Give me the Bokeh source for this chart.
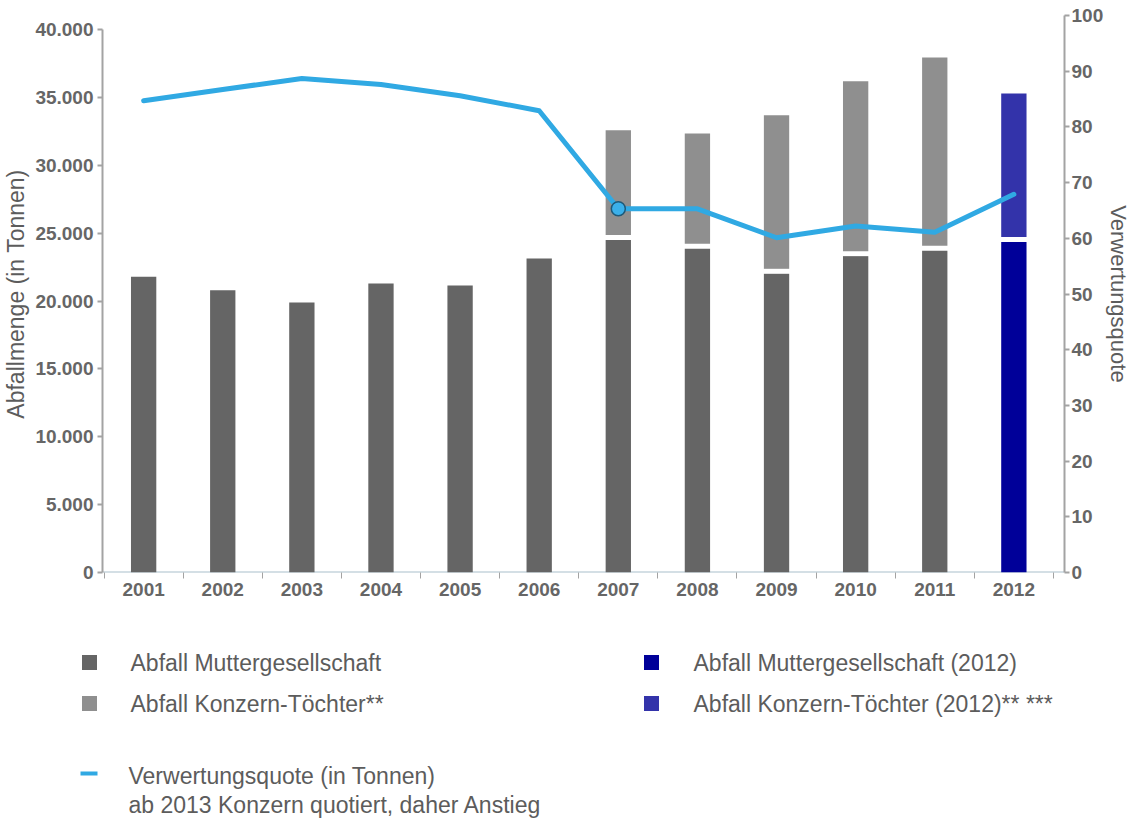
from bokeh.plotting import figure
from bokeh.models import Range1d, LinearAxis, FixedTicker, Span
from bokeh.layouts import column, row
from bokeh.embed import file_html
from bokeh.resources import INLINE
from bokeh.core.properties import value

# ---------------- data ----------------
years = [2001, 2002, 2003, 2004, 2005, 2006, 2007, 2008, 2009, 2010, 2011, 2012]
abfall_mutter = [21800, 20800, 19900, 21300, 21150, 23150, 24700, 24050, 22200, 23500, 23900, 24550]
abfall_gesamt = [21800, 20800, 19900, 21300, 21150, 23150, 32600, 32350, 33700, 36200, 37950, 35300]
verwertungsquote = [84.7, 86.7, 88.7, 87.6, 85.6, 82.9, 65.3, 65.3, 60.1, 62.2, 61.1, 67.9]
left_ticks = [0, 5000, 10000, 15000, 20000, 25000, 30000, 35000, 40000]
left_tick_labels = ["0", "5.000", "10.000", "15.000", "20.000", "25.000", "30.000", "35.000", "40.000"]
right_ticks = [0, 10, 20, 30, 40, 50, 60, 70, 80, 90, 100]
legend_left = ["Abfall Muttergesellschaft", "Abfall Konzern-Töchter**"]
legend_right = ["Abfall Muttergesellschaft (2012)", "Abfall Konzern-Töchter (2012)** ***"]
legend_line = ["Verwertungsquote (in Tonnen)", "ab 2013 Konzern quotiert, daher Anstieg"]
highlight_year = 2007

# ---------------- styles ----------------
FONT = "Liberation Sans"
C_MUTTER = "#656565"
C_TOECHTER = "#8f8f8f"
C_MUTTER_12 = "#000099"
C_TOECHTER_12 = "#3333aa"
C_LINE = "#30a9e3"
C_AXIS = "#a3a3a3"
C_TICKLBL = "#666666"
C_TEXT = "#5c5c5c"
BAR_W = 0.32
TICK_FS = "19px"

mutter_colors = [C_MUTTER_12 if y == 2012 else C_MUTTER for y in years]
t_idx = [i for i in range(len(years)) if abfall_gesamt[i] > abfall_mutter[i]]
t_years = [years[i] for i in t_idx]
t_bottom = [abfall_mutter[i] for i in t_idx]
t_top = [abfall_gesamt[i] for i in t_idx]
t_colors = [C_TOECHTER_12 if years[i] == 2012 else C_TOECHTER for i in t_idx]

p = figure(width=1134, height=613,
           x_range=Range1d(2000.48, 2012.64), y_range=Range1d(0, 41054),
           output_backend="svg", toolbar_location=None,
           min_border_left=100, min_border_right=66, min_border_top=15, min_border_bottom=41)
p.xgrid.visible = False
p.ygrid.visible = False
p.outline_line_color = None
p.extra_y_ranges = {"quote": Range1d(0, 100)}

# baseline
p.add_layout(Span(location=0, dimension="width", line_color="#aac0cc", line_width=2, level="underlay"))

# bars
p.vbar(x=years, bottom=0, top=abfall_mutter, width=BAR_W, fill_color=mutter_colors, line_color=None)
p.vbar(x=t_years, bottom=t_bottom, top=t_top, width=BAR_W, fill_color=t_colors, line_color=None)
p.rect(x=t_years, y=t_bottom, width=BAR_W + 0.02, height=5, height_units="screen",
       fill_color="white", line_color=None)

# line
p.line(years, verwertungsquote, y_range_name="quote", line_color=C_LINE, line_width=5,
       line_join="round", line_cap="round")
hi = years.index(highlight_year)
p.scatter([years[hi]], [verwertungsquote[hi]], y_range_name="quote", size=14,
          fill_color="#3bb0ea", line_color="#1d5a7a", line_width=1.5)

# x axis
xa = p.xaxis[0]
boundaries = [y - 0.5 for y in years] + [years[-1] + 0.5]
xa.ticker = FixedTicker(ticks=years, minor_ticks=boundaries)
xa.major_label_overrides = {y: str(y) for y in years}
xa.axis_line_color = None
xa.major_tick_out = 0
xa.major_tick_in = 0
xa.minor_tick_out = 6
xa.minor_tick_in = 0
xa.minor_tick_line_color = C_AXIS
xa.minor_tick_line_width = 1
xa.major_label_standoff = 4
xa.major_label_text_font = FONT
xa.major_label_text_font_style = "bold"
xa.major_label_text_font_size = TICK_FS
xa.major_label_text_color = C_TICKLBL

# left axis
ya = p.yaxis[0]
ya.ticker = FixedTicker(ticks=left_ticks)
ya.major_label_overrides = dict(zip(left_ticks, left_tick_labels))
ya.bounds = (0, 40000)
ya.axis_line_color = C_AXIS
ya.axis_line_width = 2
ya.major_tick_line_color = C_AXIS
ya.major_tick_line_width = 2
ya.major_tick_out = 5
ya.major_tick_in = 0
ya.minor_tick_out = 0
ya.minor_tick_in = 0
ya.major_label_standoff = 4
ya.major_label_text_font = FONT
ya.major_label_text_font_style = "bold"
ya.major_label_text_font_size = TICK_FS
ya.major_label_text_color = C_TICKLBL
ya.axis_label = "Abfallmenge (in Tonnen)"
ya.axis_label_text_font = FONT
ya.axis_label_text_font_style = "normal"
ya.axis_label_text_font_size = "23px"
ya.axis_label_text_color = C_TEXT
ya.axis_label_standoff = 3

# right axis
ra = LinearAxis(y_range_name="quote", ticker=FixedTicker(ticks=right_ticks))
ra.axis_line_color = C_AXIS
ra.axis_line_width = 2
ra.major_tick_line_color = C_AXIS
ra.major_tick_line_width = 2
ra.major_tick_out = 5
ra.major_tick_in = 0
ra.minor_tick_out = 0
ra.minor_tick_in = 0
ra.major_label_standoff = 2
ra.major_label_text_font = FONT
ra.major_label_text_font_style = "bold"
ra.major_label_text_font_size = TICK_FS
ra.major_label_text_color = C_TICKLBL
ra.axis_label = "Verwertungsquote"
ra.axis_label_text_font = FONT
ra.axis_label_text_font_style = "normal"
ra.axis_label_text_font_size = "22px"
ra.axis_label_text_color = C_TEXT
ra.axis_label_standoff = 0
p.add_layout(ra, "right")

# ---------------- legend (page-pixel coordinates, y measured from legend top) ----------------
LG_TOP = 613
lg = figure(width=1134, height=207, x_range=Range1d(0, 1134), y_range=Range1d(207, 0),
            output_backend="svg", toolbar_location=None, min_border=0,
            x_axis_location=None, y_axis_location=None)
lg.xgrid.visible = False
lg.ygrid.visible = False
lg.outline_line_color = None

row_y = [662 - LG_TOP, 703 - LG_TOP]
lg.rect(x=[89, 89], y=row_y, width=15, height=15, fill_color=[C_MUTTER, C_TOECHTER], line_color=None)
lg.rect(x=[651, 651], y=row_y, width=15, height=15, fill_color=[C_MUTTER_12, C_TOECHTER_12], line_color=None)
lg.text(x=[130, 130], y=row_y, text=legend_left, text_font=value(FONT), text_font_size="23px",
        text_color=C_TEXT, text_baseline="middle", text_align="left")
lg.text(x=[693, 693], y=row_y, text=legend_right, text_font=value(FONT), text_font_size="23px",
        text_color=C_TEXT, text_baseline="middle", text_align="left")
lg.segment(x0=[80], y0=[773 - LG_TOP], x1=[97], y1=[773 - LG_TOP], line_color=C_LINE, line_width=4)
lg.text(x=[128, 128], y=[775 - LG_TOP, 804 - LG_TOP], text=legend_line, text_font=value(FONT),
        text_font_size="23px", text_color=C_TEXT, text_baseline="middle", text_align="left")

layout = column(p, row(lg), spacing=0)
open("out.html", "w").write(file_html(layout, INLINE))
